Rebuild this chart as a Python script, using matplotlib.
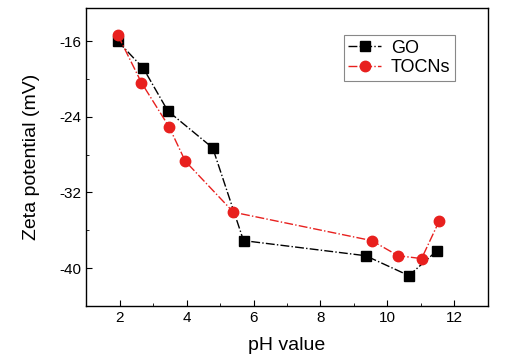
import matplotlib
matplotlib.use('Agg')
import matplotlib.pyplot as plt
from matplotlib.ticker import MultipleLocator

plt.rcParams['font.family'] = ['Liberation Sans', 'DejaVu Sans']
plt.rcParams['axes.unicode_minus'] = False

# GO series
go_ph = [1.94, 2.71, 3.44, 4.78, 5.70, 9.35, 10.64, 11.47]
go_zeta = [-16.0, -18.9, -23.4, -27.3, -37.1, -38.7, -40.8, -38.2]

# TOCNs series
tocn_ph = [1.95, 2.65, 3.48, 3.96, 5.40, 9.53, 10.32, 11.02, 11.55]
tocn_zeta = [-15.4, -20.4, -25.1, -28.7, -34.1, -37.1, -38.7, -39.0, -35.0]

fig = plt.figure(figsize=(5.13, 3.59), dpi=100)
ax = fig.add_axes([0.168, 0.148, 0.783, 0.830])

ax.plot(go_ph, go_zeta, '-.', color='black', lw=1.0, marker='s', ms=7,
        markerfacecolor='black', markeredgecolor='black', label='GO')
ax.plot(tocn_ph, tocn_zeta, '-.', color='#e8201e', lw=1.0, marker='o', ms=7.5,
        markerfacecolor='#e8201e', markeredgecolor='#e8201e', label='TOCNs')

ax.set_xlim(1, 13)
ax.set_ylim(-44, -12.5)
ax.xaxis.set_major_locator(MultipleLocator(2))
ax.xaxis.set_minor_locator(MultipleLocator(1))
ax.yaxis.set_major_locator(MultipleLocator(8))
ax.yaxis.set_minor_locator(MultipleLocator(4))
ax.tick_params(which='both', direction='in', top=False, right=False, labelsize=11)
ax.tick_params(which='major', length=4)
ax.tick_params(which='minor', length=2.5)
for s in ax.spines.values():
    s.set_linewidth(1.0)

ax.set_xlabel('pH value', fontsize=14, labelpad=9)
ax.set_ylabel('Zeta potential (mV)', fontsize=14, labelpad=14)

leg = ax.legend(loc='upper right', bbox_to_anchor=(0.918, 0.909), fontsize=13,
                fancybox=False, framealpha=1, edgecolor='#888888',
                handlelength=1.8, handletextpad=0.55, borderpad=0.25,
                labelspacing=0.15, borderaxespad=0)
leg.get_frame().set_linewidth(0.8)

fig.savefig('out.png', dpi=100)
